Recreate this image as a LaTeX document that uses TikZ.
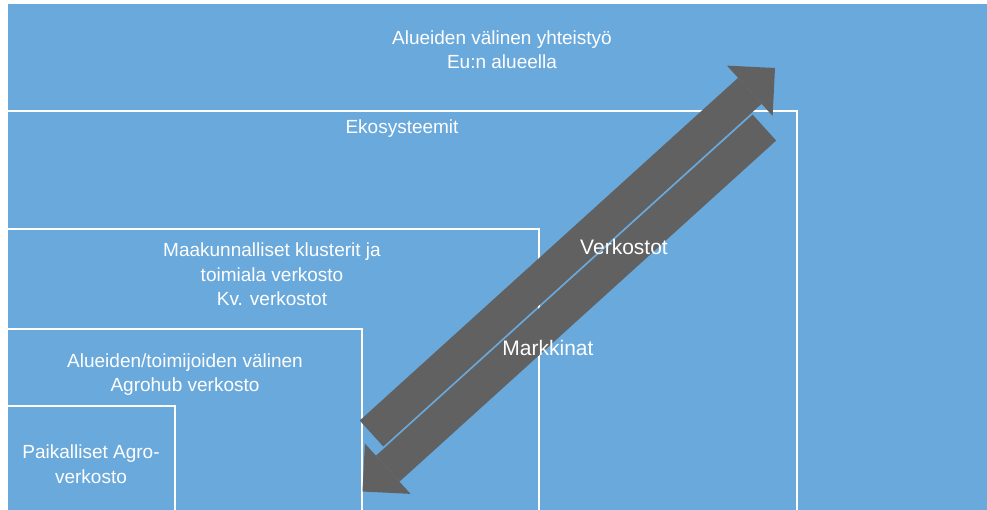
\documentclass[tikz,border=0pt]{standalone}
\usepackage{fontspec}
\setmainfont{Liberation Sans}
\usetikzlibrary{arrows.meta, positioning}
\definecolor{areablue}{HTML}{6AA9DC}
\definecolor{arrowgray}{HTML}{616161}

\begin{document}
\begin{tikzpicture}[x=1pt, y=-1pt,
    boxline/.style={draw=white, line width=2.8pt},
    boxtext/.style={text=white, align=center, inner sep=0pt, font=\fontsize{19}{24.5}\selectfont},
    flowtext/.style={text=white, inner sep=0pt, font=\fontsize{21}{25}\selectfont},
    bigarrow/.style={draw=arrowgray, line width=35pt, -{Triangle[length=34pt, width=68pt, line width=0pt]}}]
      \useasboundingbox (0,0) rectangle (987,510);
      \fill[areablue] (8,4) rectangle (987,510);

      % nested areas
      \draw[boxline] (8,111) -| (797,510);
      \draw[boxline] (8,229) -| (539,510);
      \draw[boxline] (8,329) -| (362,510);
      \draw[boxline] (8,406) -| (175,510);

      % arrows
      \coordinate (upTail) at (371.5,433.5);
      \coordinate (upTip) at (775,68);
      \coordinate (downTail) at (764.4,127.6);
      \coordinate (downTip) at (362.5,491.5);
      \draw[bigarrow] (upTail) -- (upTip);
      \draw[bigarrow] (downTail) -- (downTip);

      \node[boxtext] (eu) at (502,49.5) {Alueiden välinen yhteistyö\\Eu:n alueella};
      \node[boxtext] (eko) at (402,129) {Ekosysteemit};
      \node[boxtext] (maak) at (272,274.5) {Maakunnalliset klusterit ja\\toimiala verkosto\\Kv. verkostot};
      \node[boxtext] (agrohub) at (185,374.5) {Alueiden/toimijoiden välinen\\Agrohub verkosto};
      \node[boxtext] (paik) at (91,464) {Paikalliset Agro-\\verkosto};
      \node[flowtext] (verk) at (624,247) {Verkostot};
      \node[flowtext] (mark) at (548,348) {Markkinat};
    \end{tikzpicture}
\end{document}
